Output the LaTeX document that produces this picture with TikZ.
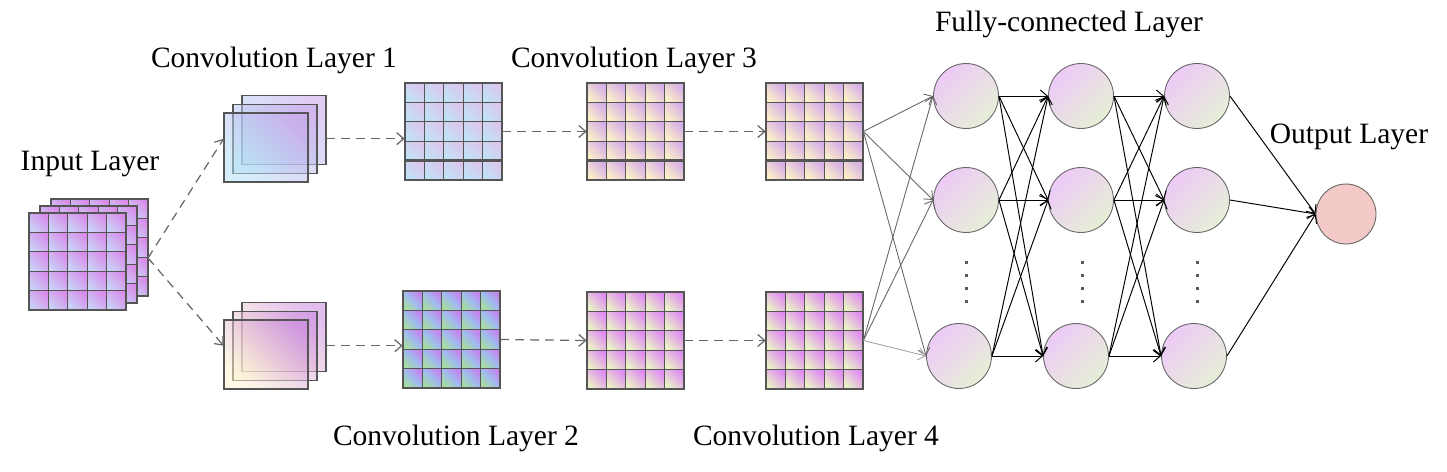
\documentclass[tikz,border=0pt]{standalone}
\usepackage{fontspec}
\setmainfont{Liberation Serif}
\usetikzlibrary{arrows.meta}

\definecolor{gridline}{HTML}{555555}
\definecolor{inlo}{HTML}{C8D2F6}
\definecolor{inhi}{HTML}{D98CEA}
\definecolor{c1lo}{HTML}{B2E2F6}
\definecolor{c1hi}{HTML}{C6A4EA}
\definecolor{c2lo}{HTML}{FEF4D0}
\definecolor{c2hi}{HTML}{CA88DE}
\definecolor{talo}{HTML}{C0E2F6}
\definecolor{tahi}{HTML}{DCC6EE}
\definecolor{tblo}{HTML}{FCF0C8}
\definecolor{tbhi}{HTML}{D6AEE8}
\definecolor{balo}{HTML}{A6DCA2}
\definecolor{bamid}{HTML}{A0BCEE}
\definecolor{bahi}{HTML}{C286EE}
\definecolor{bblo}{HTML}{EAF2C6}
\definecolor{bbhi}{HTML}{E08CF2}
\definecolor{nhi}{HTML}{EDCAF7}
\definecolor{nlo}{HTML}{E6EFD6}
\definecolor{outfill}{HTML}{F3CAC8}

% 5x5 feature map: name, left, top, lower-left colour, upper-right colour
\newcommand{\featuremap}[5]{%
  \foreach \i in {0,...,4}{
    \foreach \j in {0,...,4}{
      \shadedraw[draw=gridline, line width=0.6pt, bottom color=#4, top color=#5, shading angle=-45]
        (#2+\i*19.4, #3+\j*19.4) rectangle ++(19.4,19.4);
    }
  }
  \node[inner sep=0pt, minimum width=1.94cm, minimum height=1.94cm] (#1) at (#2+48.5, #3+48.5) {};
}

% three see-through sheets: name, left, top of front sheet, lower-left colour, upper-right colour
\newcommand{\sheetstack}[5]{%
  \foreach \k in {2,1,0}{
    \shadedraw[draw=gridline, line width=0.6pt, draw opacity=1, fill opacity=0.55,
      bottom color=#4, top color=#5, shading angle=-45]
      (#2+\k*9, #3-\k*8.8) rectangle ++(84,69);
  }
  \node[inner sep=0pt, minimum width=2.04cm, minimum height=1.73cm] (#1) at (#2+51, #3+25.7) {};
}

\begin{document}
\begin{tikzpicture}[x=0.02cm, y=-0.02cm,
  flow/.style={draw=black!60, line width=0.7pt, dash pattern=on 5pt off 3.5pt, -{Straight Barb[length=1.4mm,width=2.4mm]}},
  fan/.style={draw=black!60, line width=0.5pt, -{Straight Barb[length=1.4mm,width=2.4mm]}},
  link/.style={draw=black, line width=0.55pt, -{Straight Barb[length=1.4mm,width=2.4mm]}},
  neuron/.style={circle, draw=black!60, line width=0.5pt, minimum size=1.3cm, inner sep=0pt,
    bottom color=nlo, top color=nhi, shading angle=45},
  outneuron/.style={circle, draw=black!60, line width=0.5pt, fill=outfill, minimum size=1.2cm, inner sep=0pt},
  rowline/.style={draw=gridline, line width=1.3pt},
  layername/.style={anchor=base, font=\fontsize{16.8}{20}\selectfont}
]
\useasboundingbox (0,0) rectangle (1447,471);

% input stack
\featuremap{inback}{51}{199}{inlo}{inhi}
\featuremap{inmid}{40}{206}{inlo}{inhi}
\featuremap{input}{29}{213}{inlo}{inhi}
\coordinate (split) at (148,258);

% convolution paths
\sheetstack{convone}{224}{113}{c1lo}{c1hi}
\sheetstack{convtwo}{224}{320}{c2lo}{c2hi}

\featuremap{topa}{405}{83}{talo}{tahi}
\featuremap{topb}{587}{83}{tblo}{tbhi}
\featuremap{topc}{766}{83}{tblo}{tbhi}
\foreach \m in {topa,topb,topc}
  \draw[rowline] ([yshift=-0.582cm]\m.west) -- ([yshift=-0.582cm]\m.east);

\foreach \i in {0,...,4}{
  \foreach \j in {0,...,4}{
    \shadedraw[draw=gridline, line width=0.6pt, bottom color=balo, top color=bahi, middle color=bamid, shading angle=-45]
      (403+\i*19.4, 291+\j*19.4) rectangle ++(19.4,19.4);
  }
}
\node[inner sep=0pt, minimum width=1.94cm, minimum height=1.94cm] (bota) at (451.5,339.5) {};
\featuremap{botb}{587}{292}{bblo}{bbhi}
\featuremap{botc}{766}{292}{bblo}{bbhi}

\draw[flow] (split) -- (convone.west);
\draw[flow] (split) -- (convtwo.west);
\draw[flow] (convone.east) -- (convone.east -| topa.west);
\draw[flow] (topa.east) -- (topb.west);
\draw[flow] (topb.east) -- (topc.west);
\draw[flow] (convtwo.east) -- (convtwo.east -| bota.west);
\draw[flow] (bota.east) -- (botb.west);
\draw[flow] (botb.east) -- (botc.west);

% fully-connected layers
\node[neuron] (h11) at (966,96) {};
\node[neuron] (h12) at (966,200) {};
\node[neuron] (h13) at (959,356) {};
\node[neuron] (h21) at (1081,96) {};
\node[neuron] (h22) at (1081,200) {};
\node[neuron] (h23) at (1076,356) {};
\node[neuron] (h31) at (1197,96) {};
\node[neuron] (h32) at (1197,200) {};
\node[neuron] (h33) at (1194,356) {};
\node[outneuron] (out) at (1346,214) {};

\foreach \cx in {966,1082,1197}
  \foreach \cy in {262,275,288,301}
    \fill[black!65] (\cx-1.5,\cy-1.5) rectangle ++(3,3);

\foreach \b in {1,2,3}
  \draw[fan] (topc.east) -- (h1\b.west);
\draw[fan] (botc.east) -- (h11.west);
\draw[fan] (botc.east) -- (h12.west);
\draw[fan, draw=black!35] (botc.east) -- (h13.west);
\foreach \a in {1,2,3}
  \foreach \b in {1,2,3}{
    \draw[link] (h1\a.east) -- (h2\b.west);
    \draw[link] (h2\a.east) -- (h3\b.west);
  }
\foreach \a in {1,2,3}
  \draw[link] (h3\a.east) -- (out.west);

% layer names
\node[layername] (lin) at (90,170) {Input Layer};
\node[layername] (lc1) at (274,67) {Convolution Layer 1};
\node[layername] (lc3) at (634,67) {Convolution Layer 3};
\node[layername] (lc2) at (456,445) {Convolution Layer 2};
\node[layername] (lc4) at (816,445) {Convolution Layer 4};
\node[layername] (lfc) at (1069,31) {Fully-connected Layer};
\node[layername] (lout) at (1349,143) {Output Layer};

\end{tikzpicture}
\end{document}
